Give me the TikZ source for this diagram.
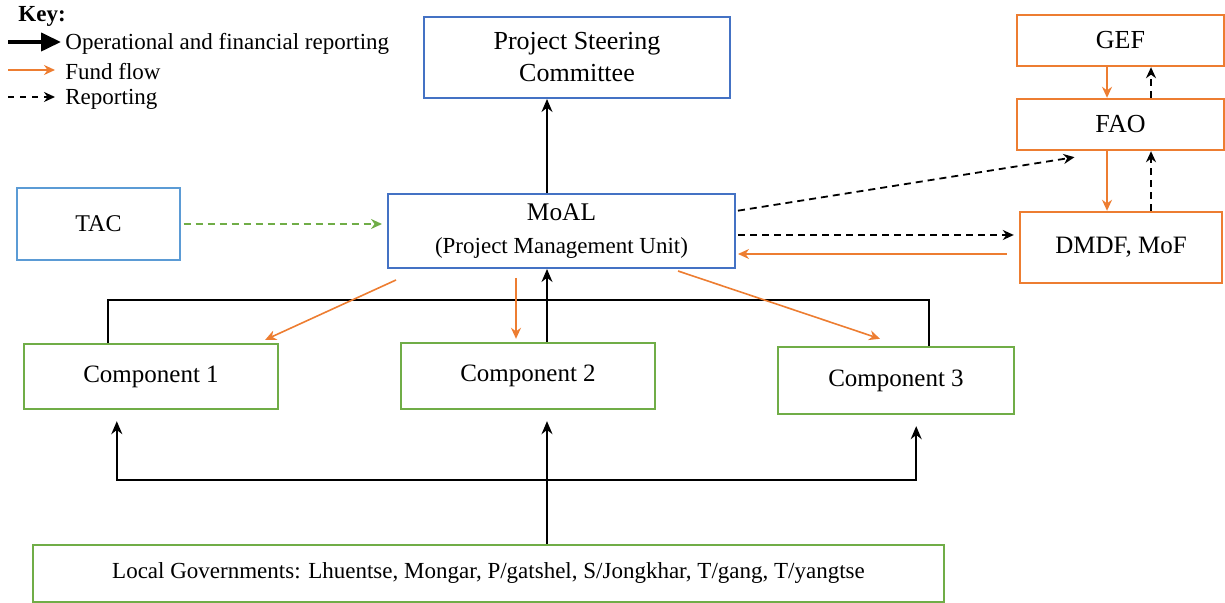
\documentclass[tikz,border=0pt]{standalone}
\usepackage{fontspec}
\setmainfont{Liberation Serif}
\usepackage{xcolor}
\definecolor{psblue}{HTML}{4472C4}
\definecolor{tacblue}{HTML}{5B9BD5}
\definecolor{fundorange}{HTML}{ED7D31}
\definecolor{compgreen}{HTML}{70AD47}
\usepackage{tikz}
\usetikzlibrary{arrows.meta,positioning}

\begin{document}
\begin{tikzpicture}[x=0.5pt,y=-0.5pt,font=\fontsize{12}{14}\selectfont,
  mgmt/.style={draw=psblue,line width=1pt,fill=white,align=center,inner sep=2pt},
  tacbox/.style={draw=tacblue,line width=0.6pt,fill=white,align=center},
  fund/.style={draw=fundorange,line width=1.2pt,fill=white,align=center},
  comp/.style={draw=compgreen,line width=1.2pt,fill=white,align=center},
  opline/.style={black,line width=0.8pt},
  oparr/.style={opline,-{Stealth[length=6.5pt,width=5.5pt]}},
  fundarr/.style={fundorange,line width=0.8pt,-{Stealth[length=5.5pt,width=5pt]}},
  reparr/.style={black,line width=0.9pt,dash pattern=on 3.5pt off 2.5pt,-{Stealth[length=5.5pt,width=5pt]}},
  tacarr/.style={compgreen,line width=0.9pt,dash pattern=on 3.5pt off 2.5pt,-{Stealth[length=5.5pt,width=5pt]}},
  keytext/.style={anchor=west,inner sep=0pt,font=\fontsize{11.5}{13}\selectfont}]
  \useasboundingbox (0,0) rectangle (1225,603);
  % key
  \node[anchor=west,inner sep=0pt,font=\fontsize{11.5}{13}\selectfont\bfseries] (key) at (18,16) {Key:};
  \node[keytext] (keyop) at (65,44) {Operational and financial reporting};
  \node[keytext] (keyfund) at (65,72) {Fund flow};
  \node[keytext] (keyrep) at (65,99) {Reporting};
  \coordinate (keyopL) at (8,42);
  \coordinate (keyfundL) at (8,70);
  \coordinate (keyrepL) at (8,97);
  \draw[black,line width=2pt,-{Triangle[length=10pt,width=9pt]}] (keyopL) -- ([xshift=-2pt,yshift=1pt]keyop.west);
  \draw[fundarr] (keyfundL) -- ([xshift=-5pt,yshift=1pt]keyfund.west);
  \draw[reparr,dash pattern=on 3pt off 3pt] (keyrepL) -- ([xshift=-5pt,yshift=1pt]keyrep.west);
  % boxes
  \node[mgmt,minimum width=153pt,minimum height=40.5pt,font=\fontsize{13}{16}\selectfont] (psc) at (577,57.5) {Project Steering\\Committee};
  \node[tacbox,minimum width=81.5pt,minimum height=36pt] (tac) at (98.5,224) {TAC};
  \node[mgmt,minimum width=173.5pt,minimum height=37pt] (moal) at (561.5,231)
    {{\fontsize{12.7}{15}\selectfont MoAL}\\[2.5pt]{\fontsize{11.5}{13}\selectfont (Project Management Unit)}};
  \node[fund,minimum width=103.5pt,minimum height=25.5pt,font=\fontsize{13}{15}\selectfont] (gef) at (1120.5,40.5) {GEF};
  \node[fund,minimum width=103.5pt,minimum height=25.5pt,font=\fontsize{13}{15}\selectfont] (fao) at (1120.5,124.5) {FAO};
  \node[fund,minimum width=101pt,minimum height=35.5pt,font=\fontsize{12.5}{15}\selectfont] (dmdf) at (1121,247.5) {DMDF, MoF};
  \node[comp,minimum width=127pt,minimum height=32.5pt,font=\fontsize{12.5}{15}\selectfont] (c1) at (151,376.5) {Component 1};
  \node[comp,minimum width=127pt,minimum height=33pt,font=\fontsize{12.5}{15}\selectfont] (c2) at (528,376) {Component 2};
  \node[comp,minimum width=118pt,minimum height=33.5pt,font=\fontsize{12.5}{15}\selectfont] (c3) at (896,380.5) {Component 3};
  \node[comp,minimum width=455.5pt,minimum height=28.5pt,font=\fontsize{11.5}{13}\selectfont] (lg) at (488.5,573.5)
    {Local Governments: Lhuentse, Mongar, P/gatshel, S/Jongkhar, T/gang, T/yangtse};
  % junction points
  \coordinate (spine) at (547,300);
  \coordinate (hub) at (547,480);
  % reporting up to the steering committee
  \draw[oparr] (moal.north -| spine) -- (psc.south -| spine);
  \draw[opline] ([xshift=42.5pt]c1.north west) |- (spine) -| ([xshift=-43pt]c3.north east);
  \draw[oparr] (c2.north -| spine) -- (moal.south -| spine);
  \draw[opline] (lg.north -| hub) -- (hub);
  \draw[oparr,shorten >=5.5pt] (hub) -| ([xshift=47pt]c1.south west);
  \draw[oparr,shorten >=5.5pt] (hub) -| ([xshift=-49.5pt]c3.south east);
  \draw[oparr,shorten >=5.5pt] (hub) -- (c2.south -| hub);
  % TAC
  \draw[tacarr,shorten <=1.5pt,shorten >=2.5pt] (tac.east) -- (moal.west |- tac.east);
  % fund flow
  \draw[fundarr] ([xshift=-6.75pt]gef.south) -- ([xshift=-6.75pt]fao.north);
  \draw[fundarr] ([xshift=-6.75pt]fao.south) -- ([xshift=-7pt]dmdf.north);
  \draw[fundarr,shorten <=6pt,shorten >=1pt] ([yshift=-3.25pt]dmdf.west) -- ([yshift=-11.5pt]moal.east);
  \draw[fundarr] ([xshift=4.5pt,yshift=-5.5pt]moal.south west) -- ([xshift=-7pt,yshift=1.5pt]c1.north east);
  \draw[fundarr] ([xshift=-22.75pt,yshift=-4.5pt]moal.south) -- ([xshift=-6pt,yshift=1.5pt]c2.north);
  \draw[fundarr] ([xshift=-29pt,yshift=-1pt]moal.south east) -- ([xshift=-8pt,yshift=3.5pt]c3.north);
  % reporting
  \draw[reparr] ([xshift=15.25pt]fao.north) -- ([xshift=15.25pt]gef.south);
  \draw[reparr] ([xshift=15pt]dmdf.north) -- ([xshift=15.25pt]fao.south);
  \draw[reparr,shorten <=1pt] ([yshift=10pt]moal.east) -- ([xshift=-23pt,yshift=-3pt]fao.south);
  \draw[reparr,shorten <=1pt,shorten >=2.5pt] ([yshift=-2pt]moal.east) -- ([yshift=6.25pt]dmdf.west);
\end{tikzpicture}
\end{document}
